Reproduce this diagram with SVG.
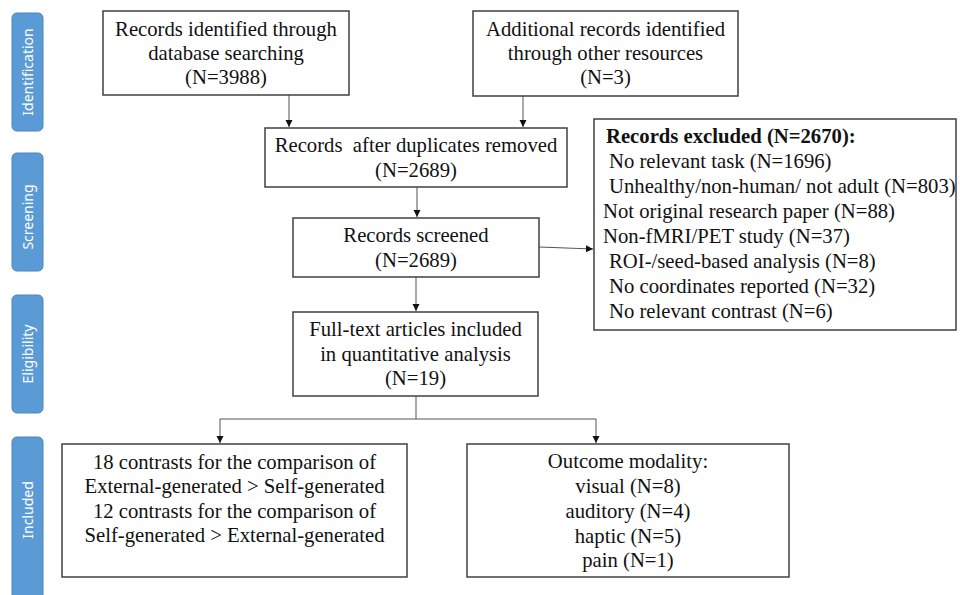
<svg xmlns="http://www.w3.org/2000/svg" width="960" height="595" viewBox="0 0 960 595">
<style>
.bar{fill:#5b9bd5;stroke:#4a86c0;stroke-width:1}
.bl{font-family:"Noto Sans","Open Sans",sans-serif;font-size:14px;fill:#ffffff;text-anchor:middle}
.box{fill:#ffffff;stroke:#404040;stroke-width:1.5}
.t{font-family:"Liberation Serif","Times New Roman",serif;font-size:20.7px;fill:#111111;text-anchor:middle}
.tl{font-family:"Liberation Serif","Times New Roman",serif;font-size:20.7px;fill:#111111}
.b{font-weight:bold}
.c{fill:none;stroke:#555555;stroke-width:1}
</style>
<defs>
<marker id="ah" markerUnits="userSpaceOnUse" markerWidth="8" markerHeight="8" refX="7" refY="3.5" orient="auto">
<path d="M0,0 L7,3.5 L0,7 z" fill="#111111"/>
</marker>
</defs>
<rect width="960" height="595" fill="#ffffff"/>
<g id="stage-identification"><rect class="bar" x="12" y="13" width="31" height="118" rx="5"/><text class="bl" transform="translate(33,72) rotate(-90)">Identification</text></g>
<g id="stage-screening"><rect class="bar" x="12" y="153" width="31" height="118" rx="5"/><text class="bl" transform="translate(33,217) rotate(-90)">Screening</text></g>
<g id="stage-eligibility"><rect class="bar" x="12" y="295" width="31" height="118" rx="5"/><text class="bl" transform="translate(33,354) rotate(-90)">Eligibility</text></g>
<g id="stage-included"><rect class="bar" x="12" y="437" width="31" height="175" rx="5"/><text class="bl" transform="translate(33,510) rotate(-90)">Included</text></g>

<g id="connectors">
<path class="c" d="M289,95 V127" marker-end="url(#ah)"/>
<path class="c" d="M523,96 V127" marker-end="url(#ah)"/>
<path class="c" d="M417,187 V217" marker-end="url(#ah)"/>
<path class="c" d="M539,247 L593,249" marker-end="url(#ah)"/>
<path class="c" d="M416,277 V311" marker-end="url(#ah)"/>
<path class="c" d="M416,396 V419 M220,419 H596"/>
<path class="c" d="M220,419 V443" marker-end="url(#ah)"/>
<path class="c" d="M596,419 V443" marker-end="url(#ah)"/>
</g>

<g id="db-search"><rect class="box" x="103" y="11" width="246" height="84"/>
<text class="t" x="226" y="36">Records identified through</text>
<text class="t" x="226" y="60">database searching</text>
<text class="t" x="226" y="84">(N=3988)</text></g>

<g id="other-sources"><rect class="box" x="473" y="11" width="265" height="85"/>
<text class="t" x="605.5" y="36">Additional records identified</text>
<text class="t" x="605.5" y="60">through other resources</text>
<text class="t" x="605.5" y="84">(N=3)</text></g>

<g id="dedup"><rect class="box" x="265" y="128" width="302" height="59"/>
<text class="t" x="416" y="152" xml:space="preserve">Records  after duplicates removed</text>
<text class="t" x="416" y="177">(N=2689)</text></g>

<g id="screened"><rect class="box" x="293" y="218" width="246" height="59"/>
<text class="t" x="416" y="242">Records screened</text>
<text class="t" x="416" y="267">(N=2689)</text></g>

<g id="excluded"><rect class="box" x="594" y="119" width="362" height="211"/>
<text class="tl b" x="606" y="143">Records excluded (N=2670):</text>
<text class="tl" x="609" y="168">No relevant task (N=1696)</text>
<text class="tl" x="609" y="193">Unhealthy/non-human/ not adult (N=803)</text>
<text class="tl" x="603" y="218">Not original research paper (N=88)</text>
<text class="tl" x="603" y="243">Non-fMRI/PET study (N=37)</text>
<text class="tl" x="609" y="268">ROI-/seed-based analysis (N=8)</text>
<text class="tl" x="609" y="293">No coordinates reported (N=32)</text>
<text class="tl" x="609" y="318">No relevant contrast (N=6)</text></g>

<g id="fulltext"><rect class="box" x="293" y="312" width="245" height="84"/>
<text class="t" x="415.5" y="336">Full-text articles included</text>
<text class="t" x="415.5" y="361">in quantitative analysis</text>
<text class="t" x="415.5" y="385">(N=19)</text></g>

<g id="contrasts"><rect class="box" x="62" y="444" width="345" height="133"/>
<text class="t" x="234.5" y="469">18 contrasts for the comparison of</text>
<text class="t" x="234.5" y="493">External-generated &gt; Self-generated</text>
<text class="t" x="234.5" y="517.5">12 contrasts for the comparison of</text>
<text class="t" x="234.5" y="542">Self-generated &gt; External-generated</text></g>

<g id="modality"><rect class="box" x="467" y="444" width="322" height="133"/>
<text class="t" x="628" y="468">Outcome modality:</text>
<text class="t" x="628" y="493">visual (N=8)</text>
<text class="t" x="628" y="518">auditory (N=4)</text>
<text class="t" x="628" y="543">haptic (N=5)</text>
<text class="t" x="628" y="567">pain (N=1)</text></g>
</svg>
